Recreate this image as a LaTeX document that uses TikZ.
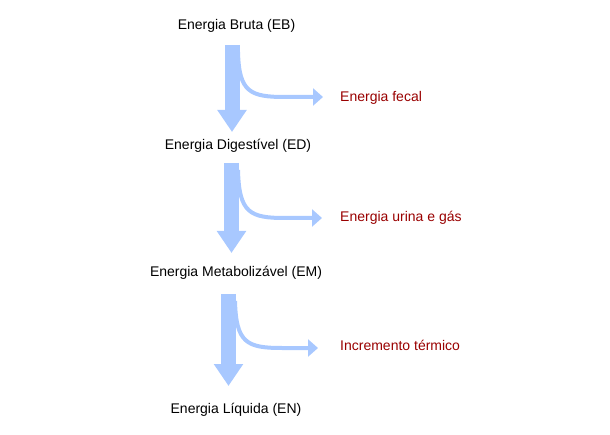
\documentclass[tikz,border=0pt]{standalone}
\usepackage{fontspec}
\setmainfont{Liberation Sans}
\usetikzlibrary{positioning,arrows.meta}
\definecolor{Flow}{HTML}{A8C8FF}
\definecolor{Loss}{HTML}{990000}

\begin{document}
\begin{tikzpicture}[
  x=1pt, y=-1pt,
  font=\fontsize{14}{17}\selectfont,
  level/.style={inner sep=0pt, anchor=base},
  loss/.style={inner sep=0pt, anchor=base west, text=Loss},
  mainarrow/.style={draw=Flow, line width=15pt, -{Triangle[width=28pt, length=22pt]}},
  branch/.style={draw=Flow, line width=4pt, -{Triangle[width=17pt, length=10pt]}}
]
  \useasboundingbox (0,0) rectangle (610,435);
  % energy levels
  \node[level] (eb) at (236.5,30) {Energia Bruta (EB)};
  \node[level] (ed) at (238,150) {Energia Digestível (ED)};
  \node[level] (em) at (236,277) {Energia Metabolizável (EM)};
  \node[level] (en) at (236,413) {Energia Líquida (EN)};
  % losses
  \node[loss] (fecal) at (340,102) {Energia fecal};
  \node[loss] (urina) at (340,222) {Energia urina e gás};
  \node[loss] (termico) at (340,350) {Incremento térmico};
  % arrow ends
  \coordinate (s1) at (232,45);  \coordinate (t1) at (232,132);
  \coordinate (s2) at (231.5,163); \coordinate (t2) at (231.5,253);
  \coordinate (s3) at (228.5,294); \coordinate (t3) at (228.5,386);
  \coordinate (k1) at (238,52);  \coordinate (k2) at (238,170);  \coordinate (k3) at (235,301);
  \coordinate (e1) at (323,97);  \coordinate (e2) at (322,218);  \coordinate (e3) at (318,348);
  \draw[mainarrow] (s1) -- (t1);
  \draw[mainarrow] (s2) -- (t2);
  \draw[mainarrow] (s3) -- (t3);
  \draw[branch] (k1) .. controls (239,92) and (250,97) .. (285,97) -- (e1);
  \draw[branch] (k2) .. controls (239,213) and (250,218) .. (285,218) -- (e2);
  \draw[branch] (k3) .. controls (236,343) and (247,348) .. (282,348) -- (e3);
\end{tikzpicture}
\end{document}
